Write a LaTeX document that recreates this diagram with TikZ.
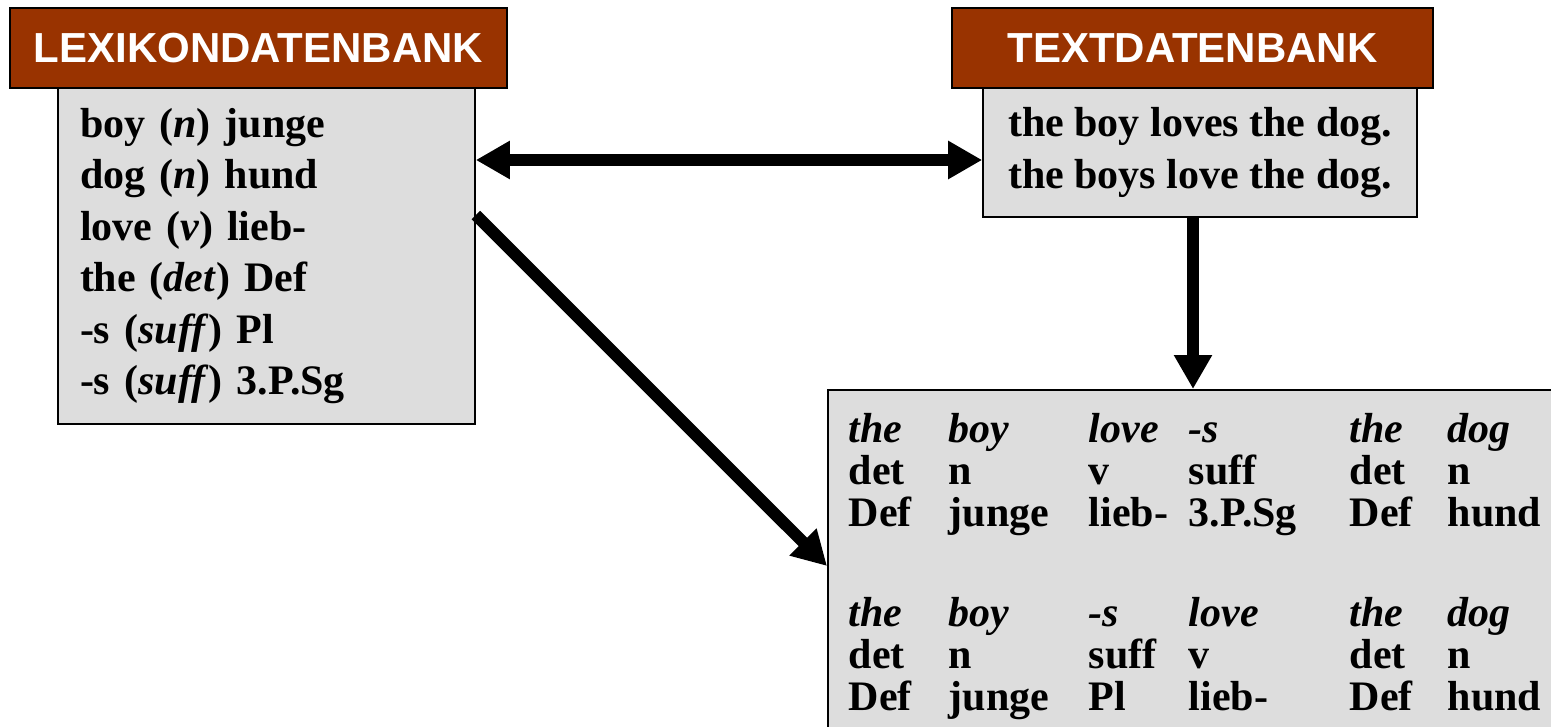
\documentclass[tikz,border=0pt]{standalone}
\usepackage{fontspec}
\setmainfont{Liberation Serif}
\setsansfont{Liberation Sans}
\usepackage{tikz}
\usetikzlibrary{arrows.meta}
\tikzset{>={Triangle[length=17pt,width=18pt]}}
\definecolor{mybrown}{RGB}{153, 51, 0}
\definecolor{mygray1}{RGB}{221, 221, 221}

\begin{document}
\begin{tikzpicture}[x=0.5pt, y=-0.5pt,
  head/.style = {draw, line width=0.8pt, fill=mybrown, text=white, inner sep=0pt,
                 minimum height=40pt, font=\sffamily\bfseries\fontsize{21}{25}\selectfont},
  content/.style = {draw, line width=0.8pt, fill=mygray1, inner sep=0pt,
                    font=\bfseries\fontsize{21}{25.7}\selectfont},
  bigarrow/.style = {line width=6pt}]
\clip (0,0) rectangle (1551,727);

% the two data banks
\node[content, align=left, inner xsep=11pt, text width=186.5pt, minimum height=168pt]
  (lexbox) at (266.5,256)
  {boy (\textit{n}) junge\\ dog (\textit{n}) hund\\ love (\textit{v}) lieb-\\
   the (\textit{det}) Def\\ -s (\textit{suff}) Pl\\ -s (\textit{suff}) 3.P.Sg};
\node[head, minimum width=248.5pt] (lexhead) at (258.5,48) {LEXIKONDATENBANK};

\node[content, align=center, minimum width=217pt, minimum height=64.5pt]
  (txtbox) at (1200,152.5)
  {the boy loves the dog.\\ the boys love the dog.};
\node[head, minimum width=240.5pt] (txthead) at (1192.5,48) {TEXTDATENBANK};

% analysed sentences
\node[content, anchor=north west, inner xsep=10.5pt, inner ysep=12pt,
      font=\bfseries\fontsize{21}{20.75}\selectfont] (tabbox) at (827,389)
  {\begin{tabular}{@{}p{50pt}@{}p{70pt}@{}p{50pt}@{}p{80.5pt}@{}p{49pt}@{}p{50pt}@{}}
   \textit{the} & \textit{boy} & \textit{love} & \textit{-s} & \textit{the} & \textit{dog}\\
   det & n & v & suff & det & n\\
   Def & junge & lieb- & 3.P.Sg & Def & hund\\[29pt]
   \textit{the} & \textit{boy} & \textit{-s} & \textit{love} & \textit{the} & \textit{dog}\\
   det & n & suff & v & det & n\\
   Def & junge & Pl & lieb- & Def & hund
   \end{tabular}};

% arrows
\path ([yshift=-3.75pt]txtbox.west) coordinate (txtin);
\draw[bigarrow, <->] (lexbox.east |- txtin) -- (txtin);
\path ([xshift=-3.5pt]txtbox.south) coordinate (txtout);
\draw[bigarrow, ->] (txtout) -- (txtout |- tabbox.north);
\path ([yshift=-88.5pt]tabbox.north west) coordinate (tabin);
\draw[bigarrow, ->] ([yshift=20.5pt]lexbox.east) -- (tabin);

\end{tikzpicture}
\end{document}
